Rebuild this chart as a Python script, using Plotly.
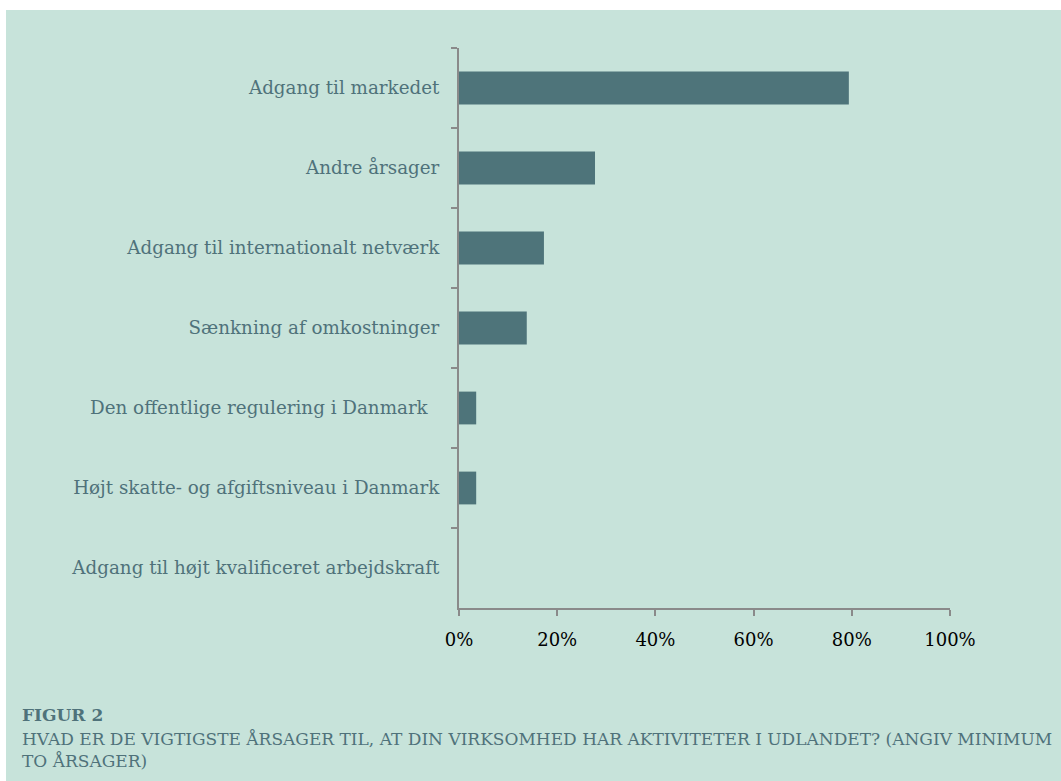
import plotly.graph_objects as go

categories = [
    "Adgang til markedet",
    "Andre årsager",
    "Adgang til internationalt netværk",
    "Sænkning af omkostninger",
    "Den offentlige regulering i Danmark\u00a0\u00a0",
    "Højt skatte- og afgiftsniveau i Danmark",
    "Adgang til højt kvalificeret arbejdskraft",
]
values = [79.4, 27.7, 17.3, 13.8, 3.5, 3.5, 0.0]
x_ticks = [0, 20, 40, 60, 80, 100]
x_tick_labels = ["0%", "20%", "40%", "60%", "80%", "100%"]

caption_title = "FIGUR 2"
caption_text = ("HVAD ER DE VIGTIGSTE ÅRSAGER TIL, AT DIN VIRKSOMHED HAR AKTIVITETER I UDLANDET? (ANGIV MINIMUM"
                "<br>TO ÅRSAGER)")

W, H = 1061, 781
L, R, T, B = 459, 950, 48, 608
pw, ph = R - L, B - T

def px(x):
    return (x - L) / pw

def py(y):
    return (B - y) / ph

BG = "#c7e3da"
BAR = "#4e747a"
LBL = "#4f727a"
AX = "#8a8a8a"
FONT = "Georgia, 'DejaVu Serif', serif"

fig = go.Figure(go.Bar(
    x=values, y=categories, orientation="h",
    marker=dict(color=BAR, line=dict(width=0)),
    width=0.41,
))

fig.update_layout(
    width=W, height=H,
    margin=dict(l=L, r=W - R, t=T, b=H - B, pad=0),
    paper_bgcolor="white",
    plot_bgcolor="rgba(0,0,0,0)",
    showlegend=False,
    font=dict(family=FONT),
    shapes=[dict(type="rect", xref="paper", yref="paper",
                 x0=px(6), x1=px(W + 5), y0=py(H + 5), y1=py(10),
                 fillcolor=BG, line=dict(width=0), layer="below")],
    annotations=[
        dict(text="<b>" + caption_title + "</b>", xref="paper", yref="paper",
             x=px(20), y=py(703), xanchor="left", yanchor="top", showarrow=False,
             align="left", font=dict(size=17, color=LBL, family=FONT)),
        dict(text=caption_text, xref="paper", yref="paper",
             x=px(20), y=py(727), xanchor="left", yanchor="top", showarrow=False,
             align="left", font=dict(size=17, color=LBL, family=FONT)),
    ],
)

fig.update_xaxes(
    range=[0, 100], tickvals=x_ticks, ticktext=x_tick_labels,
    showgrid=False, zeroline=False, showline=True, linecolor=AX, linewidth=2,
    ticks="outside", ticklen=6, tickcolor=AX, tickwidth=2,
    ticklabelstandoff=8,
    tickfont=dict(size=18, color="black", family=FONT),
)
fig.update_yaxes(
    autorange="reversed", type="category", tickson="boundaries",
    showgrid=False, zeroline=False, showline=True, linecolor=AX, linewidth=2,
    ticks="outside", ticklen=6, tickcolor=AX, tickwidth=2,
    ticklabelstandoff=14,
    tickfont=dict(size=18.3, color=LBL, family=FONT),
)

fig.write_html("out.html",
               config={"displayModeBar": False},
               post_script="document.body.style.margin='0';document.body.style.overflow='hidden';")
